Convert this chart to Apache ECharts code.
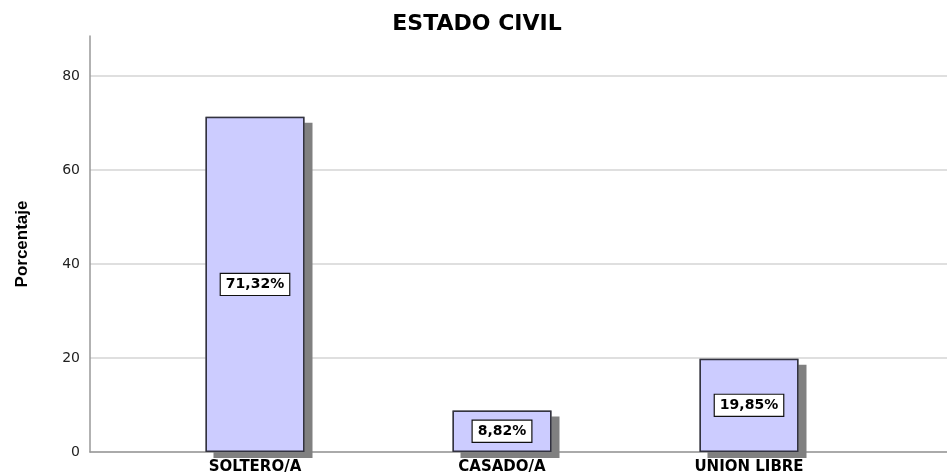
<!DOCTYPE html>
<html>
<head>
<meta charset="utf-8">
<script src="https://cdn.jsdelivr.net/npm/echarts@6/dist/echarts.min.js"></script>
<style>
  html, body { margin: 0; padding: 0; background: #fff; }
  #chart { width: 947px; height: 476px; }
</style>
</head>
<body>
<div id="chart"></div>
<script>
// datos
const categories = ['SOLTERO/A', 'CASADO/A', 'UNION LIBRE']
const percentages = [71.32, 8.82, 19.85]
const yTicks = [0, 20, 40, 60, 80]
const yMax = 88.5

const chart = echarts.init(document.getElementById('chart'))

const fmt = v => v.toFixed(2).replace('.', ',') + '%'
const wide = 'DejaVu Sans, Verdana, sans-serif'

chart.setOption({
  backgroundColor: '#fff',
  animation: false,
  title: {
    text: 'ESTADO CIVIL',
    left: 472,
    textAlign: 'center',
    top: 8,
    textStyle: { fontFamily: wide, fontSize: 22, fontWeight: 'bold', color: '#000' }
  },
  grid: [
    // ejes y lineas de cuadricula
    { left: 90, right: 0, top: 36, bottom: 24 },
    // barras (las categorias no ocupan todo el ancho)
    { left: 131.5, right: 74.5, top: 36, bottom: 24 }
  ],
  xAxis: [
    {
      gridIndex: 0, type: 'value', min: 0, max: 1,
      axisLine: { show: true, lineStyle: { color: '#999', width: 1.5 } },
      axisTick: { show: false }, axisLabel: { show: false }, splitLine: { show: false }
    },
    {
      gridIndex: 1, type: 'category', data: categories,
      axisLine: { show: false }, axisTick: { show: false },
      axisLabel: {
        margin: 8, color: '#000', fontFamily: wide,
        fontSize: 15, fontWeight: 'bold'
      }
    }
  ],
  yAxis: [
    {
      gridIndex: 0, type: 'value', min: 0, max: yMax, interval: 20,
      name: 'Porcentaje', nameLocation: 'middle', nameGap: 59, nameRotate: 90,
      nameTextStyle: { fontFamily: 'Liberation Sans Narrow, Arial Narrow, Arial', fontSize: 17, fontWeight: 'bold', color: '#000' },
      axisLine: { show: true, lineStyle: { color: '#999', width: 1.5 } },
      axisTick: { show: false },
      axisLabel: {
        margin: 10, color: '#222', fontFamily: wide, fontSize: 14,
        formatter: v => (yTicks.indexOf(v) >= 0 ? String(v) : '')
      },
      splitLine: {
        show: true,
        lineStyle: { color: ['#d4d4d4', '#d4d4d4', '#d4d4d4', '#d4d4d4', '#d4d4d4', 'rgba(0,0,0,0)'], width: 1.5 }
      }
    },
    {
      gridIndex: 1, type: 'value', min: 0, max: yMax, show: false,
      splitLine: { show: false }
    }
  ],
  series: [
    {
      // sombra de las barras
      type: 'bar',
      xAxisIndex: 1,
      yAxisIndex: 1,
      data: percentages,
      barWidth: 99,
      silent: true,
      itemStyle: {
        color: '#808080',
        shadowColor: '#808080',
        shadowBlur: 0,
        shadowOffsetX: 8,
        shadowOffsetY: 6
      }
    },
    {
      type: 'bar',
      xAxisIndex: 1,
      yAxisIndex: 1,
      data: percentages,
      barWidth: 99,
      barGap: '-100%',
      itemStyle: {
        color: '#ccccff',
        borderColor: '#333340',
        borderWidth: 1.5
      },
      label: {
        show: true,
        position: 'inside',
        formatter: p => fmt(p.value),
        color: '#000',
        fontFamily: wide,
        fontSize: 14,
        fontWeight: 'bold',
        backgroundColor: '#fff',
        borderColor: '#111',
        borderWidth: 1.2,
        padding: [4, 5, 3, 5]
      }
    }
  ]
})
</script>
</body>
</html>
